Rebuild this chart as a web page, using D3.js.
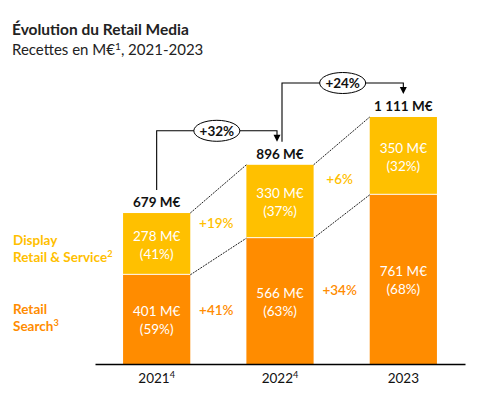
<!DOCTYPE html>
<html>
<head>
<meta charset="utf-8">
<script src="https://cdn.jsdelivr.net/npm/d3@7"></script>
<style>
  body { margin: 0; background: #fff; }
  svg { display: block; font-family: Lato, "Open Sans", sans-serif; }
</style>
</head>
<body>
<div id="chart"></div>
<script>
// Data
const years = ["2021", "2022", "2023"];
const yearNotes = ["4", "4", ""];
const searchValues = [401, 566, 761];
const displayValues = [278, 330, 350];
const searchShares = [59, 63, 68];
const displayShares = [41, 37, 32];
const totals = [679, 896, 1111];
const totalLabels = ["679 M€", "896 M€", "1 111 M€"];
const totalGrowth = ["+32%", "+24%"];
const displayGrowth = ["+19%", "+6%"];
const searchGrowth = ["+41%", "+34%"];

const width = 479;
const height = 397;
const colSearch = "#FF8C00";
const colDisplay = "#FFC000";

const svg = d3.select("#chart")
    .append("svg")
    .attr("width", width)
    .attr("height", height);

const x = d3.scaleBand()
    .domain(years)
    .range([95, 465])
    .paddingInner(0.455)
    .paddingOuter(0.2275);

const y = d3.scaleLinear()
    .domain([0, 1111])
    .range([364, 117]);

const cx = d => x(d) + x.bandwidth() / 2;

// adds text followed by a raised small note
function withSup(sel, main, sup, rest) {
    sel.append("tspan").text(main);
    if (sup) sel.append("tspan").attr("dy", -5).attr("font-size", "0.68em").text(sup);
    if (rest) sel.append("tspan").attr("dy", 5).text(rest);
}

// title
svg.append("text")
    .attr("x", 12).attr("y", 35)
    .attr("font-size", 15.5).attr("font-weight", "bold").attr("fill", "#222")
    .text("Évolution du Retail Media");
withSup(svg.append("text")
    .attr("x", 12).attr("y", 55)
    .attr("font-size", 15).attr("fill", "#222"), "Recettes en M€", "1", ", 2021-2023");

// stacked bars
const rows = years.map((yr, i) => ({
    year: yr, search: searchValues[i], display: displayValues[i],
    sPct: searchShares[i], dPct: displayShares[i], total: totals[i]
}));

svg.selectAll(".bar-search")
    .data(rows)
    .enter().append("rect")
    .attr("class", "bar-search")
    .attr("x", d => x(d.year))
    .attr("width", x.bandwidth())
    .attr("y", d => y(d.search))
    .attr("height", d => y(0) - y(d.search))
    .attr("fill", colSearch);

svg.selectAll(".bar-display")
    .data(rows)
    .enter().append("rect")
    .attr("class", "bar-display")
    .attr("x", d => x(d.year))
    .attr("width", x.bandwidth())
    .attr("y", d => y(d.search + d.display))
    .attr("height", d => y(d.search) - y(d.search + d.display) - 1)
    .attr("fill", colDisplay);

// segment labels
function segLabel(d, v, pct, base) {
    const mid = (y(base) + y(base + v)) / 2;
    const t = svg.append("text")
        .attr("text-anchor", "middle")
        .attr("font-size", 13.5)
        .attr("fill", "#fff");
    t.append("tspan").attr("x", cx(d.year)).attr("y", mid - 3).text(v + " M€");
    t.append("tspan").attr("x", cx(d.year)).attr("y", mid + 15).text("(" + pct + "%)");
}
rows.forEach(d => {
    segLabel(d, d.search, d.sPct, 0);
    segLabel(d, d.display, d.dPct, d.search);
});

// totals
svg.selectAll(".total")
    .data(rows)
    .enter().append("text")
    .attr("class", "total")
    .attr("x", d => cx(d.year))
    .attr("y", d => y(d.total) - 6)
    .attr("text-anchor", "middle")
    .attr("font-size", 13.5)
    .attr("font-weight", "bold")
    .attr("fill", "#111")
    .text((d, i) => totalLabels[i]);

// dashed connectors between bars
for (let i = 0; i < rows.length - 1; i++) {
    const a = rows[i], b = rows[i + 1];
    [[a.total, b.total], [a.search, b.search]].forEach(([v1, v2]) => {
        svg.append("line")
            .attr("x1", x(a.year) + x.bandwidth())
            .attr("y1", y(v1))
            .attr("x2", x(b.year))
            .attr("y2", y(v2))
            .attr("stroke", "#222")
            .attr("stroke-width", 1)
            .attr("stroke-dasharray", "2,1");
    });

    // growth labels between bars
    const gx = (x(a.year) + x.bandwidth() + x(b.year)) / 2 - 2;
    const dMid = ((y(a.search) + y(a.total)) / 2 + (y(b.search) + y(b.total)) / 2) / 2;
    const sMid = ((y(0) + y(a.search)) / 2 + (y(0) + y(b.search)) / 2) / 2;
    svg.append("text")
        .attr("x", gx).attr("y", dMid + 5)
        .attr("text-anchor", "middle").attr("font-size", 13.5)
        .attr("font-weight", 600)
        .attr("fill", colDisplay)
        .text(displayGrowth[i]);
    svg.append("text")
        .attr("x", gx).attr("y", sMid + 5)
        .attr("text-anchor", "middle").attr("font-size", 13.5)
        .attr("font-weight", 600)
        .attr("fill", colSearch)
        .text(searchGrowth[i]);

    // bracket with arrow
    const x1 = cx(a.year) + (i === 0 ? 0 : 2);
    const x2 = cx(b.year) - (i === 0 ? 3 : 0);
    const yTop = y(b.total) - 34;
    const yStart = y(a.total) - 23;
    const yTip = y(b.total) - 23;
    svg.append("path")
        .attr("d", `M${x1},${yStart}V${yTop}H${x2}V${yTip - 6}`)
        .attr("fill", "none")
        .attr("stroke", "#000")
        .attr("stroke-width", 1.1);
    svg.append("path")
        .attr("d", `M${x2 - 3.5},${yTip - 7}L${x2 + 3.5},${yTip - 7}L${x2},${yTip}Z`)
        .attr("fill", "#000");
    const ex = (x1 + x2) / 2;
    svg.append("ellipse")
        .attr("cx", ex).attr("cy", yTop)
        .attr("rx", 23).attr("ry", 10.5)
        .attr("fill", "#fff")
        .attr("stroke", "#000")
        .attr("stroke-width", 1);
    svg.append("text")
        .attr("x", ex).attr("y", yTop + 5)
        .attr("text-anchor", "middle")
        .attr("font-size", 13.5)
        .attr("font-weight", "bold")
        .attr("fill", "#111")
        .text(totalGrowth[i]);
}

// x axis
const xAxis = d3.axisBottom(x).tickSize(0).tickPadding(9);
const gx = svg.append("g")
    .attr("transform", `translate(0,${y(0)})`)
    .call(xAxis);
gx.select(".domain").attr("stroke", "#000").attr("stroke-width", 1.5);
gx.selectAll("text")
    .attr("font-size", 13.5)
    .attr("font-family", "Lato, sans-serif")
    .attr("fill", "#111")
    .each(function (d, i) {
        const t = d3.select(this).text("");
        withSup(t, d, yearNotes[i], "");
    });

// legend labels
const legend = [
    { lines: [["Display", ""], ["Retail & Service", "2"]], color: colDisplay, y: 245 },
    { lines: [["Retail", ""], ["Search", "3"]], color: colSearch, y: 314 }
];
legend.forEach(l => {
    l.lines.forEach(([s, sup], k) => {
        const t = svg.append("text")
            .attr("x", 13).attr("y", l.y + k * 17)
            .attr("font-size", 13.5)
            .attr("font-weight", "bold")
            .attr("fill", l.color);
        withSup(t, s, sup, "");
    });
});
</script>
</body>
</html>
